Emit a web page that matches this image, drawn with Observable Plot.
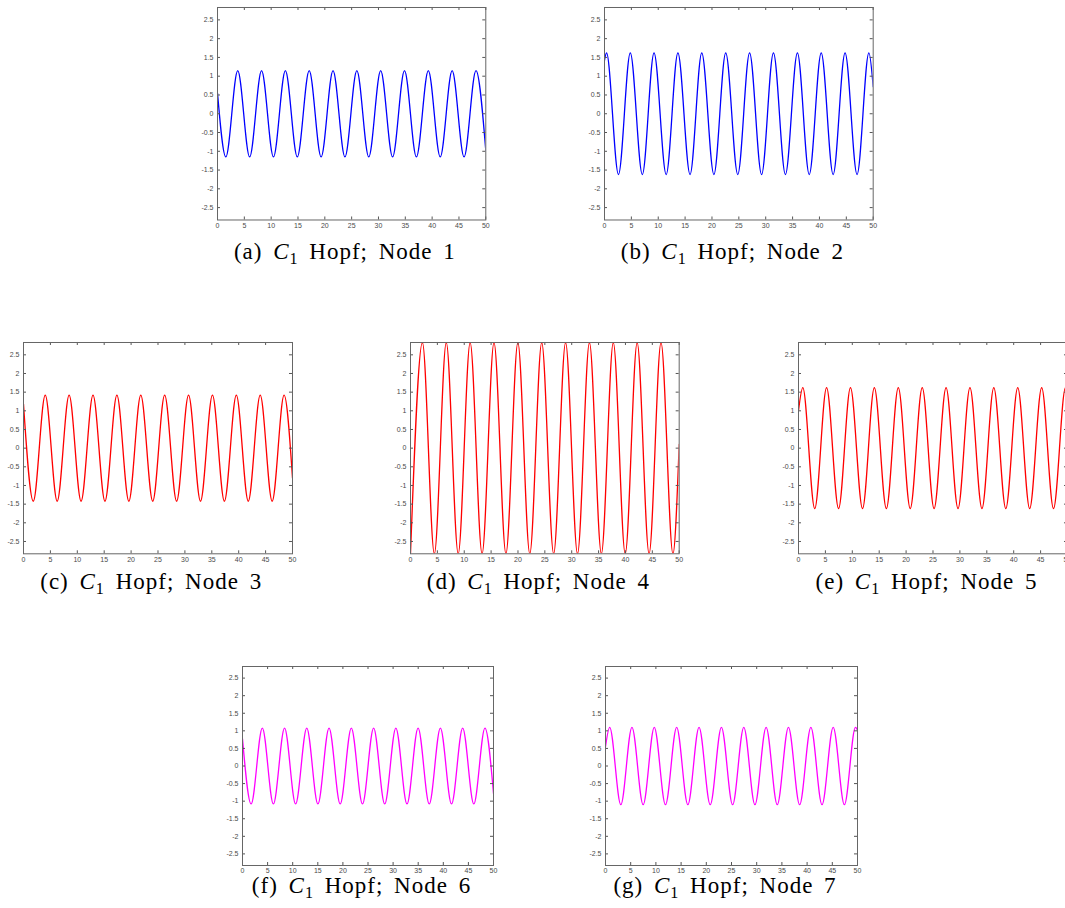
<!DOCTYPE html>
<html>
<head>
<meta charset="utf-8">
<script src="https://cdn.jsdelivr.net/npm/d3@7"></script>
<script src="https://cdn.jsdelivr.net/npm/@observablehq/plot@0.6"></script>
<style>
html, body { margin: 0; padding: 0; background: #fff; overflow: hidden; }
#fig { position: relative; width: 1065px; height: 908px; overflow: hidden; background: #fff; }
.panel { position: absolute; }
.cap { position: absolute; font-family: "Liberation Serif", "Times New Roman", serif; font-size: 23px;
       color: #000; white-space: nowrap; transform: translateX(-50%); letter-spacing: 1px; word-spacing: 4px; line-height: 18px; }
.cap sub { font-size: 70%; vertical-align: -0.3em; line-height: 0; }
</style>
</head>
<body>
<div id="fig"></div>
<script>
// ---- data ----
const xTicks = [0, 5, 10, 15, 20, 25, 30, 35, 40, 45, 50];
const yTicks = [-2.5, -2, -1.5, -1, -0.5, 0, 0.5, 1, 1.5, 2, 2.5];
const xDomain = [0, 50];
const yDomain = [-2.83, 2.83];
const captionLetters = ["a", "b", "c", "d", "e", "f", "g"];
const nodeNames = ["Node 1", "Node 2", "Node 3", "Node 4", "Node 5", "Node 6", "Node 7"];
const lineColors = ["#0000ff", "#0000ff", "#ff0000", "#ff0000", "#ff0000", "#ff00ff", "#ff00ff"];

// Node 1
const node1Amp = 1.15, node1Start = 0.55, node1End = -0.98;
const node1Peaks = [3.77, 8.21, 12.65, 17.09, 21.53, 25.97, 30.41, 34.85, 39.29, 43.73, 48.17];
const node1Troughs = [1.55, 5.99, 10.43, 14.87, 19.31, 23.75, 28.19, 32.63, 37.07, 41.51, 45.95];
// Node 2
const node2Amp = 1.62, node2Start = 1.42, node2End = 0.72;
const node2Peaks = [0.38, 4.8, 9.22, 13.66, 18.1, 22.56, 27.0, 31.44, 35.9, 40.33, 44.77, 49.2];
const node2Troughs = [2.6, 7.04, 11.48, 15.92, 20.36, 24.8, 29.23, 33.67, 38.1, 42.55, 47.0];
// Node 3
const node3Amp = 1.42, node3Start = 1.18, node3End = -0.8;
const node3Peaks = [4.04, 8.48, 12.92, 17.36, 21.8, 26.24, 30.68, 35.12, 39.56, 44.0, 48.44];
const node3Troughs = [1.82, 6.26, 10.7, 15.14, 19.58, 24.02, 28.46, 32.9, 37.34, 41.78, 46.22];
// Node 4
const node4Amp = 2.83, node4Start = -2.83, node4End = 0.1;
const node4Peaks = [2.22, 6.66, 11.1, 15.54, 19.98, 24.42, 28.86, 33.3, 37.74, 42.18, 46.62];
const node4Troughs = [4.44, 8.88, 13.32, 17.76, 22.2, 26.64, 31.08, 35.52, 39.96, 44.4, 48.84];
// Node 5
const node5Amp = 1.62, node5Start = 1.0, node5End = 1.5;
const node5Peaks = [0.8, 5.22, 9.66, 14.1, 18.55, 23.0, 27.43, 31.87, 36.3, 40.75, 45.2, 49.63];
const node5Troughs = [3.02, 7.45, 11.9, 16.33, 20.77, 25.2, 29.65, 34.1, 38.53, 42.97, 47.4];
// Node 6
const node6Amp = 1.08, node6Start = 0.77, node6End = -0.78;
const node6Peaks = [3.95, 8.38, 12.8, 17.24, 21.68, 26.12, 30.55, 34.98, 39.42, 43.86, 48.3];
const node6Troughs = [1.72, 6.15, 10.58, 15.02, 19.46, 23.9, 28.33, 32.77, 37.2, 41.64, 46.08];
// Node 7
const node7Amp = 1.1, node7Start = 0.55, node7End = 1.02;
const node7Peaks = [0.83, 5.25, 9.68, 14.12, 18.56, 23.0, 27.44, 31.87, 36.3, 40.75, 45.18, 49.6];
const node7Troughs = [3.04, 7.47, 11.9, 16.34, 20.78, 25.22, 29.65, 34.08, 38.52, 42.96, 47.4];

// ---- layout (frame boxes in page pixels) ----
const frames = [
  {L: 216.7, R: 485,   T: 7,     B: 219.5},
  {L: 604,   R: 872.7, T: 7,     B: 219.5},
  {L: 22.7,  R: 291.7, T: 341.7, B: 553},
  {L: 410,   R: 678.7, T: 341.7, B: 553},
  {L: 798,   R: 1067,  T: 341.7, B: 553},
  {L: 242,   R: 493,   T: 666,   B: 865},
  {L: 605,   R: 857,   T: 666,   B: 865}
];
const captionBaselines = [260, 260, 590, 590, 590, 894, 894];

const series = [
  [node1Amp, node1Start, node1End, node1Peaks, node1Troughs],
  [node2Amp, node2Start, node2End, node2Peaks, node2Troughs],
  [node3Amp, node3Start, node3End, node3Peaks, node3Troughs],
  [node4Amp, node4Start, node4End, node4Peaks, node4Troughs],
  [node5Amp, node5Start, node5End, node5Peaks, node5Troughs],
  [node6Amp, node6Start, node6End, node6Peaks, node6Troughs],
  [node7Amp, node7Start, node7End, node7Peaks, node7Troughs]
];

function buildPoints([amp, start, end, peaks, troughs]) {
  const pts = [{t: xDomain[0], v: start}];
  peaks.forEach(t => pts.push({t, v: amp}));
  troughs.forEach(t => pts.push({t, v: -amp}));
  pts.push({t: xDomain[1], v: end});
  return pts.sort((a, b) => a.t - b.t);
}

const fig = document.getElementById("fig");
const mL = 30, mR = 12, mT = 6, mB = 16;

frames.forEach((f, i) => {
  const W = f.R - f.L, H = f.B - f.T;
  const data = buildPoints(series[i]);
  const chart = Plot.plot({
    width: W + mL + mR,
    height: H + mT + mB,
    marginLeft: mL, marginRight: mR, marginTop: mT, marginBottom: mB,
    style: {fontFamily: "'Liberation Sans', Arial, sans-serif", fontSize: "7px", color: "#4a4a4a", background: "transparent"},
    x: {domain: xDomain, ticks: xTicks, label: null},
    y: {domain: yDomain, ticks: yTicks, label: null},
    marks: [
      Plot.line(data, {x: "t", y: "v", stroke: lineColors[i], strokeWidth: 1.3, curve: "monotone-x", clip: true}),
      Plot.tickX(xTicks, {x: d => d, insetTop: H - 3, stroke: "#555"}),
      Plot.tickX(xTicks, {x: d => d, insetBottom: H - 3, stroke: "#555"}),
      Plot.tickY(yTicks, {y: d => d, insetRight: W - 3, stroke: "#555"}),
      Plot.tickY(yTicks, {y: d => d, insetLeft: W - 3, stroke: "#555"}),
      Plot.axisX({ticks: xTicks, tickSize: 0, tickPadding: 3, label: null, tickFormat: d => String(d), fill: "#4a4a4a"}),
      Plot.axisY({ticks: yTicks, tickSize: 0, tickPadding: 4, label: null, tickFormat: d => String(d), fill: "#4a4a4a"}),
      Plot.frame({stroke: "#666", strokeWidth: 1})
    ]
  });
  chart.classList.add("panel");
  chart.style.left = (f.L - mL) + "px";
  chart.style.top = (f.T - mT) + "px";
  fig.appendChild(chart);

  const cap = document.createElement("div");
  cap.className = "cap";
  cap.innerHTML = `(${captionLetters[i]}) <i>C</i><sub>1</sub> Hopf; ${nodeNames[i]}`;
  cap.style.left = ((f.L + f.R) / 2 - 6) + "px";
  cap.style.top = (captionBaselines[i] - 17) + "px";
  fig.appendChild(cap);
});
</script>
</body>
</html>
